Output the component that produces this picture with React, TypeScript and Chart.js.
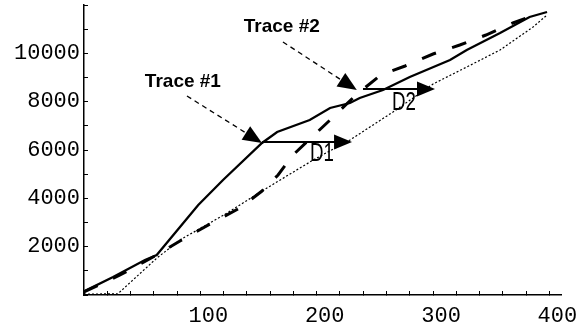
import React, { useEffect, useRef } from "react";
import { Chart, registerables } from "chart.js";

Chart.register(...registerables);

// Trace #1 (solid)
const trace1X = [0, 25, 52.4, 62.5, 98.2, 119.5, 153, 166, 194, 211.5, 228.6, 237, 257, 280, 314.6, 329, 357.6, 383, 398];
const trace1Y = [150, 745, 1448, 1655, 3724, 4759, 6290, 6745, 7241, 7738, 7945, 8152, 8483, 9021, 9724, 10138, 10841, 11503, 11710];

// Trace #2 (dashed)
const trace2X = [0, 31, 61, 82.5, 108.3, 134, 153, 166.8, 179.6, 196, 211.5, 233.8, 255, 276, 300, 323, 345.5, 368.7, 392];
const trace2Y = [124, 828, 1614, 2234, 2938, 3600, 4303, 4965, 5793, 6538, 7241, 8276, 9103, 9476, 9972, 10345, 10758, 11255, 11669];

// Reference (dotted)
const refX = [0, 29, 62.7, 82.5, 123, 153, 197, 228.6, 265.6, 300, 329, 357.6, 386, 398];
const refY = [40, 45, 1531, 2276, 3393, 4303, 5586, 6414, 7572, 8731, 9434, 10138, 11090, 11586];

// Axis tick labels
const xTickLabels = [100, 200, 300, 400];
const yTickLabels = [2000, 4000, 6000, 8000, 10000];

// Trace call-outs (label and pointer in data units)
const traceNames = ["Trace #1", "Trace #2"];
const traceLabelX = [85, 170];
const traceLabelY = [8814, 11090];
const pointerFromX = [88.5, 171];
const pointerFromY = [8234, 10469];
const pointerToX = [153, 234.5];
const pointerToY = [6290, 8480];

// Horizontal delay arrows
const deltaNames = ["D1", "D2"];
const deltaFromX = [153, 239.8];
const deltaToX = [230.4, 301.7];
const deltaY = [6331, 8524];
const deltaLabelX = [204.6, 275];
const deltaLabelY = [5876, 7986];

const toPoints = (xs: number[], ys: number[]) => xs.map((x, i) => ({ x, y: ys[i] }));

function arrowHead(ctx: CanvasRenderingContext2D, x1: number, y1: number, x2: number, y2: number, len: number, half: number) {
  const a = Math.atan2(y2 - y1, x2 - x1);
  const bx = x2 - len * Math.cos(a);
  const by = y2 - len * Math.sin(a);
  ctx.beginPath();
  ctx.moveTo(x2, y2);
  ctx.lineTo(bx - half * Math.sin(a), by + half * Math.cos(a));
  ctx.lineTo(bx + half * Math.sin(a), by - half * Math.cos(a));
  ctx.closePath();
  ctx.fill();
}

const annotate = {
  id: "annotate",
  afterDatasetsDraw(chart: any) {
    const { ctx, scales } = chart;
    const xs = scales.x;
    const ys = scales.y;
    ctx.save();
    ctx.fillStyle = "#000";
    ctx.strokeStyle = "#000";
    ctx.font = "bold 19px 'Liberation Sans', Arial, sans-serif";
    ctx.textAlign = "center";
    ctx.textBaseline = "middle";
    traceNames.forEach((name, i) => {
      ctx.fillText(name, xs.getPixelForValue(traceLabelX[i]), ys.getPixelForValue(traceLabelY[i]));
      const x1 = xs.getPixelForValue(pointerFromX[i]);
      const y1 = ys.getPixelForValue(pointerFromY[i]);
      const x2 = xs.getPixelForValue(pointerToX[i]);
      const y2 = ys.getPixelForValue(pointerToY[i]);
      const a = Math.atan2(y2 - y1, x2 - x1);
      ctx.setLineDash([5, 4]);
      ctx.lineWidth = 1.3;
      ctx.beginPath();
      ctx.moveTo(x1, y1);
      ctx.lineTo(x2 - 14 * Math.cos(a), y2 - 14 * Math.sin(a));
      ctx.stroke();
      ctx.setLineDash([]);
      arrowHead(ctx, x1, y1, x2, y2, 19, 8);
    });
    deltaNames.forEach((name, i) => {
      const x1 = xs.getPixelForValue(deltaFromX[i]);
      const x2 = xs.getPixelForValue(deltaToX[i]);
      const y = ys.getPixelForValue(deltaY[i]);
      ctx.setLineDash([]);
      ctx.lineWidth = 1.8;
      ctx.beginPath();
      ctx.moveTo(x1, y);
      ctx.lineTo(x2 - 12, y);
      ctx.stroke();
      arrowHead(ctx, x1, y, x2, y, 18, 7.5);
      const lx = xs.getPixelForValue(deltaLabelX[i]);
      const ly = ys.getPixelForValue(deltaLabelY[i]);
      ctx.save();
      ctx.translate(lx, ly);
      ctx.scale(0.72, 1);
      ctx.font = "26px 'Liberation Sans', Arial, sans-serif";
      ctx.textAlign = "center";
      ctx.textBaseline = "middle";
      ctx.fillText(name, 0, 1);
      ctx.restore();
    });
    ctx.restore();
  },
};

export default function App() {
  const ref = useRef<HTMLCanvasElement | null>(null);
  useEffect(() => {
    if (!ref.current) return;
    const tickFont = { family: "'Liberation Mono', 'Courier New', monospace", size: 22 };
    const chart = new Chart(ref.current, {
      type: "line",
      data: {
        datasets: [
          {
            data: toPoints(refX, refY),
            borderColor: "#000",
            borderWidth: 1.2,
            borderDash: [2, 2],
            pointRadius: 0,
            tension: 0,
          },
          {
            data: toPoints(trace2X, trace2Y),
            borderColor: "#000",
            borderWidth: 3,
            borderDash: [15, 17],
            pointRadius: 0,
            tension: 0,
          },
          {
            data: toPoints(trace1X, trace1Y),
            borderColor: "#000",
            borderWidth: 2.3,
            pointRadius: 0,
            tension: 0,
          },
        ],
      },
      options: {
        responsive: false,
        animation: false,
        layout: { padding: { left: 0, top: 5, right: 18, bottom: 0 } },
        plugins: { legend: { display: false }, tooltip: { enabled: false } },
        scales: {
          x: {
            type: "linear",
            min: 0,
            max: 410,
            border: { display: true, color: "#000", width: 1.5 },
            grid: { display: true, drawOnChartArea: false, drawTicks: true, tickLength: -4, color: "#000", lineWidth: 1 },
            ticks: {
              stepSize: 20,
              includeBounds: false,
              autoSkip: false,
              maxRotation: 0,
              color: "#000",
              font: tickFont,
              padding: 12,
              labelOffset: 8,
              callback: (v: any) => (xTickLabels.includes(Number(v)) ? String(v) : ""),
            },
            afterFit: (s: any) => {
              s.height = 34;
              s.paddingLeft = 0;
              s.paddingRight = 0;
            },
          },
          y: {
            type: "linear",
            min: 0,
            max: 12000,
            border: { display: true, color: "#000", width: 1.5 },
            grid: { display: true, drawOnChartArea: false, drawTicks: true, tickLength: -4, color: "#000", lineWidth: 1 },
            ticks: {
              stepSize: 1000,
              autoSkip: false,
              color: "#000",
              font: tickFont,
              padding: 8,
              callback: (v: any) => (yTickLabels.includes(Number(v)) ? String(v) : ""),
            },
            afterFit: (s: any) => {
              s.width = 84;
              s.paddingTop = 0;
              s.paddingBottom = 0;
            },
          },
        },
      },
      plugins: [annotate],
    });
    return () => chart.destroy();
  }, []);
  return (
    <div style={{ position: "absolute", left: 0, top: 0, width: 579, height: 329, background: "#fff" }}>
      <canvas ref={ref} width={579} height={329} style={{ display: "block" }} />
    </div>
  );
}
